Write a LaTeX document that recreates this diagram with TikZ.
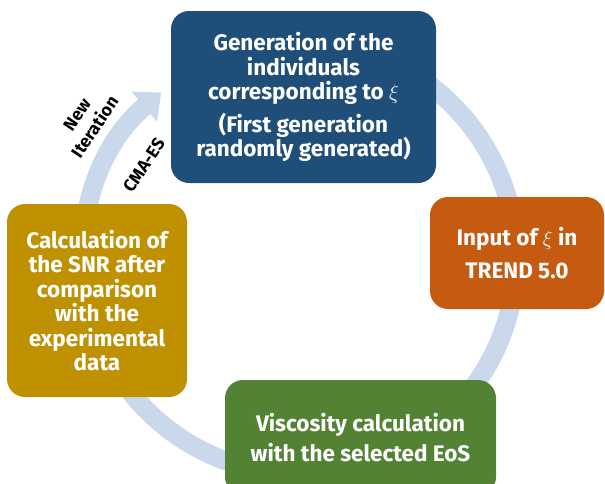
\documentclass[tikz,border=0pt]{standalone}
\usepackage{fontspec}
\setmainfont{Fira Sans}
\usetikzlibrary{arrows.meta}

\definecolor{genblue}{RGB}{31,78,121}
\definecolor{inorange}{RGB}{197,90,17}
\definecolor{viscgreen}{RGB}{84,130,53}
\definecolor{snrgold}{RGB}{191,144,0}
\definecolor{ringblue}{RGB}{202,216,235}

\tikzset{
  stagebox/.style={rounded corners=18pt, inner sep=0pt, align=center, text=white,
    font=\bfseries\fontsize{22.5}{24.5}\selectfont},
  looplabel/.style={align=center, rotate=56, font=\bfseries\fontsize{17.5}{21.5}\selectfont},
  cyclearrow/.style={ringblue, line width=19pt, -{Triangle[length=22pt,width=38pt]}}
}

\begin{document}
\begin{tikzpicture}[x=1pt,y=-1pt]
	% Fix the page to the size of the reference
	\useasboundingbox (0,0) rectangle (605,483);
	\clip (0,0) rectangle (605,483);

	% Draw the ring arrow round the centre of the cycle
	\coordinate (hub) at (300,258);
	\draw[cyclearrow] ([shift={(238:216)}]hub) arc[start angle=238, end angle=590, radius=216];

	% Draw the four stages of the cycle
	\node[stagebox, fill=genblue, minimum width=265pt, minimum height=172pt] (gen) at (303.5,97)
		{Generation of the\\individuals\\corresponding to $\xi$\\[8pt](First generation\\randomly generated)};
	\node[stagebox, fill=inorange, minimum width=174pt, minimum height=112pt] (input) at (517,253)
		{Input of $\xi$ in\\[8pt]TREND 5.0};
	\node[stagebox, fill=viscgreen, minimum width=271pt, minimum height=115pt] (visc) at (360.5,437.5)
		{Viscosity calculation\\[6pt]with the selected EoS};
	\node[stagebox, fill=snrgold, minimum width=180pt, minimum height=193pt] (snr) at (97,300.5)
		{Calculation of\\the SNR after\\comparison\\with the\\experimental\\data};

	% Label the ring arrow
	\node[looplabel] (iter) at (86,121) {New\\Iteration};
	\node[looplabel] (cma) at (144,165) {CMA-ES};
\end{tikzpicture}
\end{document}
